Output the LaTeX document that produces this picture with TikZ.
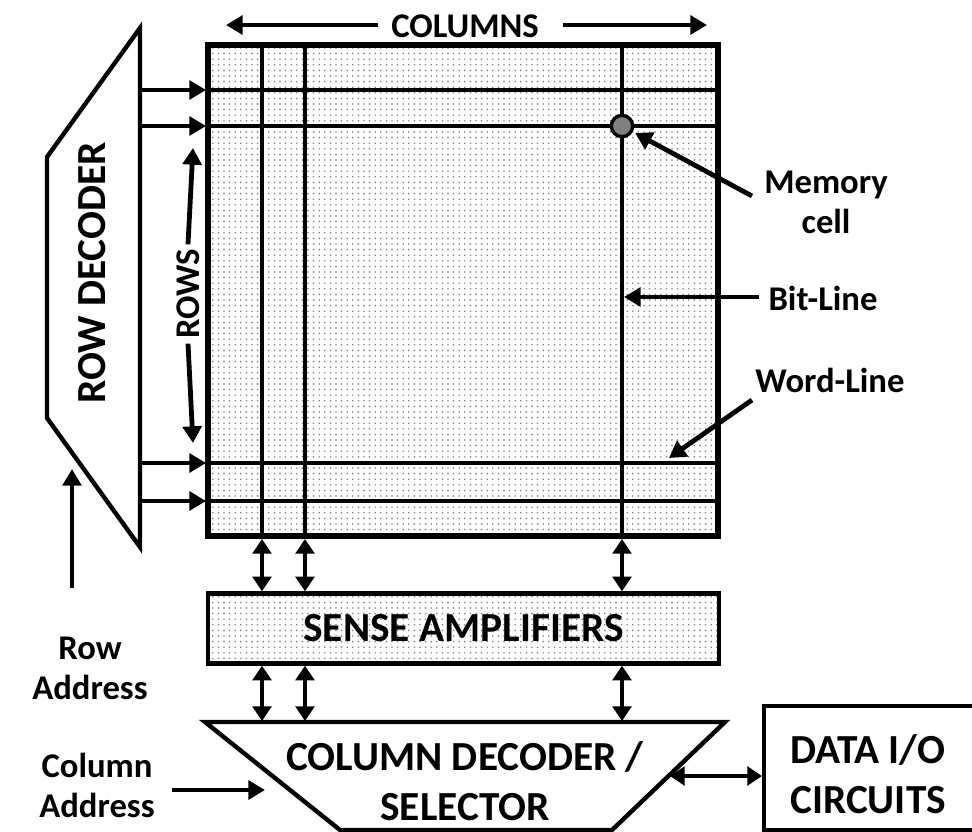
\documentclass[tikz,border=0pt]{standalone}
\usepackage{fontspec}
\setmainfont{Carlito}
\usetikzlibrary{arrows.meta,patterns.meta}

\begin{document}
\begin{tikzpicture}[x=0.75pt,y=-0.75pt]
\definecolor{cellcolor}{RGB}{128,128,128}
\definecolor{dotcolor}{RGB}{135,135,135}
\tikzset{
  bigtext/.style={font=\fontsize{31}{37}\selectfont\bfseries,align=center},
  labeltext/.style={font=\fontsize{26}{30}\selectfont\bfseries,align=center},
  dotfill/.style={pattern={Dots[radius=0.7pt,distance=4.2pt]},pattern color=dotcolor},
  arrowline/.style={line width=3.6pt,-{Triangle[length=12.5pt,width=14pt]}},
  twoway/.style={line width=3.6pt,{Triangle[length=11pt,width=14pt]}-{Triangle[length=11pt,width=14pt]}},
  gridline/.style={line width=2.7pt},
}
\useasboundingbox (0,0) rectangle (972,832);
% memory array
\fill[white] (208,45) rectangle (718,536);
\fill[dotfill] (208,45) rectangle (718,536);
\draw[gridline] (208,90) -- (718,90);
\draw[gridline] (208,126) -- (718,126);
\draw[gridline] (208,463) -- (718,463);
\draw[gridline] (208,501) -- (718,501);
\draw[gridline] (262,45) -- (262,536);
\draw[gridline] (305,45) -- (305,536);
\draw[gridline] (622,45) -- (622,536);
\draw[line width=4.6pt] (208,45) rectangle (718,536);
\node[circle,draw,line width=2.5pt,fill=cellcolor,minimum size=16pt,inner sep=0pt] (cell) at (622,126) {};
% row decoder
\draw[line width=3.3pt,line join=miter] (140,28) -- (47,157) -- (47,418) -- (140,547) -- cycle;
\node[bigtext,rotate=90] (rowdec) at (92,273) {ROW DECODER};
\coordinate (rd1) at (141,90);
\coordinate (rd2) at (141,126);
\coordinate (rd3) at (141,463);
\coordinate (rd4) at (141,501);
\coordinate (wl1) at (206,90);
\coordinate (wl2) at (206,126);
\coordinate (wl3) at (206,463);
\coordinate (wl4) at (206,501);
\draw[arrowline] (rd1) -- (wl1);
\draw[arrowline] (rd2) -- (wl2);
\draw[arrowline] (rd3) -- (wl3);
\draw[arrowline] (rd4) -- (wl4);
% columns and rows
\node[labeltext] (colslabel) at (465,26) {COLUMNS};
\coordinate (colsltail) at (378,25);
\coordinate (colsleft) at (226,25);
\coordinate (colsrtail) at (563,25);
\coordinate (colsright) at (707,25);
\draw[arrowline] (colsltail) -- (colsleft);
\draw[arrowline] (colsrtail) -- (colsright);
\node[labeltext,rotate=90] (rowslabel) at (188,294) {ROWS};
\coordinate (rowstop) at (193,148);
\coordinate (rowsbottom) at (193,443);
\draw[arrowline] (rowslabel.east) -- (rowstop);
\draw[arrowline] (rowslabel.west) -- (rowsbottom);
% labels on the right
\node[labeltext] (memlabel) at (826,202) {Memory\\cell};
\coordinate (memtail) at (752,196);
\draw[arrowline,shorten >=2pt] (memtail) -- (cell);
\node[labeltext] (bitlabel) at (823,298) {Bit-Line};
\coordinate (bittail) at (759,297);
\coordinate (bithead) at (624,297);
\draw[arrowline] (bittail) -- (bithead);
\node[labeltext] (wordlabel) at (830,380) {Word-Line};
\coordinate (wordtail) at (752,400);
\coordinate (wordhead) at (669,458);
\draw[arrowline] (wordtail) -- (wordhead);
% sense amplifiers
\node[draw,line width=3.3pt,dotfill,minimum width=383pt,minimum height=52.5pt,inner sep=0pt,bigtext] (senseamp) at (463.5,628.5) {SENSE AMPLIFIERS};
\coordinate (bl1) at (262,539);
\coordinate (bl2) at (305,539);
\coordinate (bl3) at (622,539);
\draw[twoway] (bl1) -- (senseamp.north -| bl1);
\draw[twoway] (bl2) -- (senseamp.north -| bl2);
\draw[twoway] (bl3) -- (senseamp.north -| bl3);
% column decoder
\draw[line width=3.3pt,line join=miter] (205,722) -- (725,722) -- (612,830) -- (340,830) -- cycle;
\node[bigtext,text depth=0pt] (coldec) at (465,781) {COLUMN DECODER /\\SELECTOR};
\coordinate (cd1) at (262,721);
\coordinate (cd2) at (305,721);
\coordinate (cd3) at (622,721);
\draw[twoway] (senseamp.south -| cd1) -- (cd1);
\draw[twoway] (senseamp.south -| cd2) -- (cd2);
\draw[twoway] (senseamp.south -| cd3) -- (cd3);
% data i/o
\draw[line width=3.3pt] (764,706) rectangle (978,830);
\node[bigtext] (dataio) at (868,774) {DATA I/O\\CIRCUITS};
\coordinate (cdright) at (670,776);
\coordinate (dataleft) at (762,776);
\draw[twoway] (cdright) -- (dataleft);
% addresses
\node[labeltext] (rowaddr) at (90,668) {Row\\Address};
\coordinate (rowaddrtail) at (72,588);
\coordinate (rowaddrhead) at (72,469);
\draw[arrowline] (rowaddrtail) -- (rowaddrhead);
\node[labeltext] (coladdr) at (97,785) {Column\\Address};
\coordinate (coladdrtail) at (172,790);
\coordinate (coladdrhead) at (265,790);
\draw[arrowline] (coladdrtail) -- (coladdrhead);
\end{tikzpicture}
\end{document}
